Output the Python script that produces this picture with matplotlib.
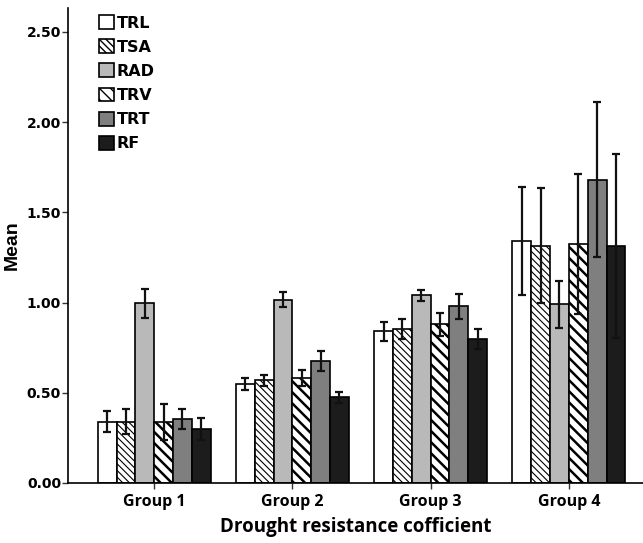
import matplotlib
matplotlib.use('Agg')
import matplotlib.pyplot as plt
import numpy as np

groups = ['Group 1', 'Group 2', 'Group 3', 'Group 4']
series = ['TRL', 'TSA', 'RAD', 'TRV', 'TRT', 'RF']

means = {
    'TRL': [0.34, 0.55, 0.84, 1.34],
    'TSA': [0.34, 0.57, 0.855, 1.315],
    'RAD': [0.995, 1.015, 1.04, 0.99],
    'TRV': [0.34, 0.58, 0.88, 1.325],
    'TRT': [0.355, 0.675, 0.98, 1.68],
    'RF':  [0.30, 0.475, 0.80, 1.315],
}
errs = {
    'TRL': [0.06, 0.033, 0.055, 0.30],
    'TSA': [0.07, 0.03, 0.055, 0.32],
    'RAD': [0.083, 0.042, 0.03, 0.13],
    'TRV': [0.10, 0.045, 0.065, 0.39],
    'TRT': [0.055, 0.055, 0.07, 0.43],
    'RF':  [0.06, 0.03, 0.055, 0.51],
}

colors = {'TRL': 'white', 'TSA': 'white', 'RAD': '#b9b9b9',
          'TRV': 'white', 'TRT': '#7f7f7f', 'RF': '#1c1c1c'}
hatches = {'TRL': None, 'TSA': '\\' * 5, 'RAD': None,
           'TRV': '\\' * 3, 'TRT': None, 'RF': None}
hatch_lw = {'TSA': 0.8, 'TRV': 1.8}

fig = plt.figure(figsize=(6.43, 5.43), dpi=100)
ax = fig.add_axes([68/643, 60/543, 575/643, 475/543])

x = np.arange(len(groups))
w = 0.136
for i, s in enumerate(series):
    pos = x + (i - 2.5) * w
    with plt.rc_context({'hatch.linewidth': hatch_lw.get(s, 1.0)}):
        ax.bar(pos, means[s], w, color=colors[s], edgecolor='black',
               linewidth=1.2, hatch=hatches[s], label=s, zorder=2)
    ax.errorbar(pos, means[s], yerr=errs[s], fmt='none', ecolor='#111111',
                elinewidth=1.6, capsize=3, capthick=1.6, zorder=3)

ax.set_xlim(-0.623, 3.536)
ax.set_ylim(0, 2.633)
ax.set_yticks([0, 0.5, 1.0, 1.5, 2.0, 2.5])
ax.set_yticklabels(['0.00', '0.50', '1.00', '1.50', '2.00', '2.50'],
                   fontfamily='DejaVu Sans', fontweight='bold', fontsize=10)
ax.set_xticks(x)
ax.set_xticklabels(groups, fontfamily='Open Sans', fontweight='bold', fontsize=11.5)
ax.tick_params(axis='both', direction='out', length=4, width=1, color='#333333')
ax.tick_params(axis='x', pad=4)
ax.tick_params(axis='y', pad=1)

for sp in ['top', 'right']:
    ax.spines[sp].set_visible(False)
for sp in ['left', 'bottom']:
    ax.spines[sp].set_linewidth(1.2)

ax.set_ylabel('Mean', fontfamily='Liberation Sans', fontweight='bold', fontsize=14, labelpad=4)
ax.set_xlabel('Drought resistance cofficient', fontfamily='Open Sans',
              fontweight='bold', fontsize=13.5, labelpad=5)

leg = ax.legend(loc='upper left', bbox_to_anchor=(0.054, 0.985), frameon=False,
                borderpad=0, borderaxespad=0, handlelength=0.95, handleheight=0.95,
                handletextpad=0.15, labelspacing=0.55,
                prop={'family': 'DejaVu Sans', 'weight': 'bold', 'size': 11.5})

fig.savefig('out.png', dpi=100)
